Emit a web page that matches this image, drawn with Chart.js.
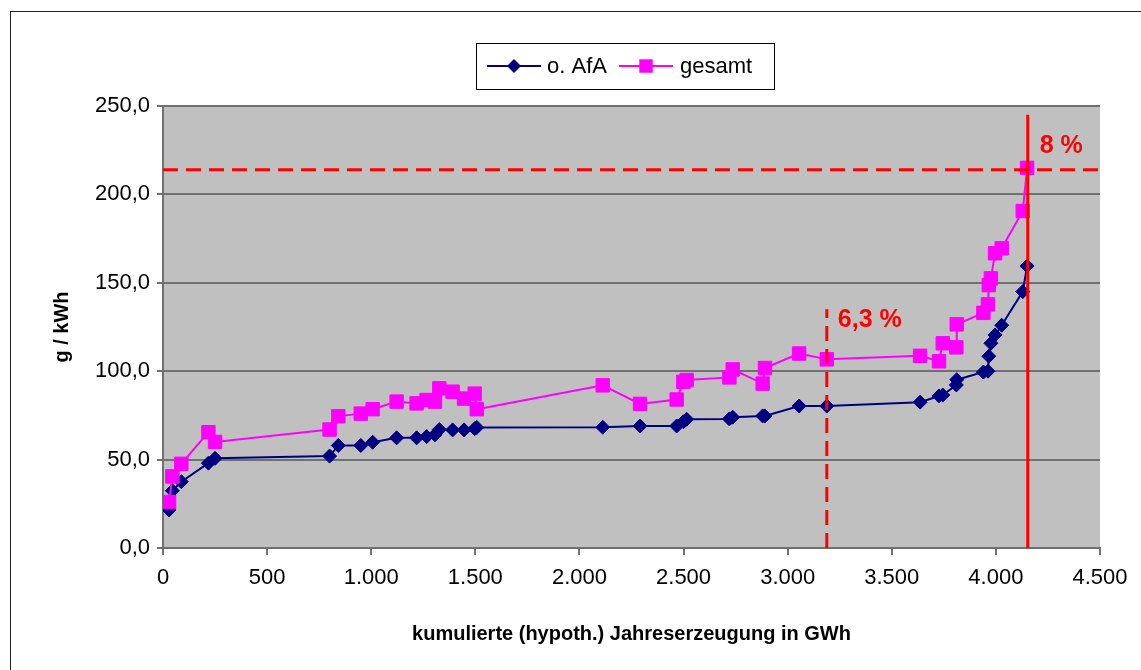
<!DOCTYPE html>
<html>
<head>
<meta charset="utf-8">
<script src="https://cdn.jsdelivr.net/npm/chart.js@4/dist/chart.umd.min.js"></script>
<style>
html, body { margin: 0; padding: 0; background: #fff; }
#wrap { width: 1141px; height: 670px; }
</style>
</head>
<body>
<div id="wrap"><canvas id="kurve"></canvas></div>
<script>
// kumulierte Erzeugung (GWh) und spezifische Werte (g/kWh)
var erzeugung = [29, 45, 88, 218, 250, 800, 842, 950, 1007, 1122, 1218, 1266, 1306, 1327, 1391, 1446, 1497, 1507,
                 2112, 2291, 2467, 2499, 2515, 2720, 2736, 2880, 2891, 3055, 3188, 3636, 3727, 3745, 3810, 3812,
                 3940, 3962, 3966, 3976, 3996, 4028, 4129, 4150];
var ohneAfA = [21.5, 32.4, 37.5, 48, 50.7, 52, 58, 58, 59.8, 62.3, 62.3, 63, 64, 67, 66.8, 66.8, 67.5, 68.2,
               68.3, 69, 69, 71.4, 72.8, 73, 74, 74.7, 74.7, 80.3, 80.3, 82.5, 86, 86.5, 92.2, 95.2,
               99.5, 100, 108.5, 115.8, 120.5, 126, 145, 159.5];
var gesamt = [26, 40.5, 47.6, 65.5, 60, 67, 74.5, 76, 78.5, 82.8, 81.8, 83.7, 82.8, 90.3, 88.4, 84.5, 87.3, 78.5,
              92, 81.5, 84, 94, 95, 96.5, 101, 93, 101.8, 110, 106.7, 108.7, 105.6, 115.8, 113.5, 126.5,
              133, 137.8, 148.7, 152.5, 166.7, 169.5, 190.6, 215];
var serienNamen = ['o. AfA', 'gesamt'];

// Markierungen (rot)
var grenze63 = 3188, grenze8 = 4153, grenzWert = 214;
var strichEnde63 = 135, linienEnde8 = 245;

function punkte(ys) {
    return erzeugung.map(function (x, i) { return { x: x, y: ys[i] }; });
}

var schrift = '"Liberation Sans", Arial, sans-serif';

var hintergrund = {
    id: 'hintergrund',
    beforeDraw: function (chart) {
        var ctx = chart.ctx, a = chart.chartArea;
        ctx.save();
        ctx.fillStyle = '#fff';
        ctx.fillRect(0, 0, chart.width, chart.height);
        ctx.strokeStyle = '#222';
        ctx.lineWidth = 1;
        ctx.strokeRect(10.5, 11.5, chart.width + 20, chart.height + 20);
        ctx.fillStyle = '#c0c0c0';
        ctx.fillRect(a.left, a.top, a.right - a.left, a.bottom - a.top);
        ctx.restore();
    }
};

var markierungen = {
    id: 'markierungen',
    afterDatasetsDraw: function (chart) {
        var ctx = chart.ctx, x = chart.scales.x, y = chart.scales.y;
        ctx.save();
        ctx.strokeStyle = '#ff0000';
        ctx.lineWidth = 3;
        ctx.setLineDash([15, 8]);
        ctx.beginPath();
        ctx.moveTo(x.getPixelForValue(0), y.getPixelForValue(grenzWert));
        ctx.lineTo(x.getPixelForValue(4500), y.getPixelForValue(grenzWert));
        ctx.stroke();
        ctx.beginPath();
        ctx.moveTo(x.getPixelForValue(grenze63), y.getPixelForValue(0));
        ctx.lineTo(x.getPixelForValue(grenze63), y.getPixelForValue(strichEnde63));
        ctx.stroke();
        ctx.setLineDash([]);
        ctx.beginPath();
        ctx.moveTo(x.getPixelForValue(grenze8), y.getPixelForValue(0));
        ctx.lineTo(x.getPixelForValue(grenze8), y.getPixelForValue(linienEnde8));
        ctx.stroke();
        ctx.fillStyle = '#ff0000';
        ctx.font = 'bold 25px ' + schrift;
        ctx.textBaseline = 'middle';
        ctx.fillText('6,3 %', x.getPixelForValue(grenze63) + 11, y.getPixelForValue(129));
        ctx.fillText('8 %', x.getPixelForValue(grenze8) + 12, y.getPixelForValue(227.5));
        ctx.restore();
    }
};

// Legende im Excel-Stil: Linie mit Marker, Rahmen drum
var legende = {
    id: 'legende',
    afterDraw: function (chart) {
        var ctx = chart.ctx, yy = 66;
        var pos = [{ x: 487, t: 547 }, { x: 619, t: 680 }];
        ctx.save();
        ctx.strokeStyle = '#000';
        ctx.lineWidth = 1;
        ctx.strokeRect(476.5, 43.5, 298, 46);
        chart.data.datasets.forEach(function (ds, i) {
            var p = pos[i], mx = p.x + 27;
            ctx.strokeStyle = ds.borderColor;
            ctx.lineWidth = 2;
            ctx.beginPath();
            ctx.moveTo(p.x, yy);
            ctx.lineTo(p.x + 54, yy);
            ctx.stroke();
            ctx.fillStyle = ds.backgroundColor;
            ctx.beginPath();
            if (ds.pointStyle === 'rectRot') {
                var r = ds.pointRadius;
                ctx.moveTo(mx - r, yy); ctx.lineTo(mx, yy - r);
                ctx.lineTo(mx + r, yy); ctx.lineTo(mx, yy + r);
                ctx.closePath();
            } else {
                var s = ds.pointRadius * Math.SQRT1_2;
                ctx.rect(mx - s, yy - s, 2 * s, 2 * s);
            }
            ctx.fill();
            ctx.fillStyle = '#000';
            ctx.font = '22px ' + schrift;
            ctx.textBaseline = 'middle';
            ctx.fillText(ds.label, p.t, yy + 1);
        });
        ctx.restore();
    }
};

var ctx = document.getElementById('kurve');
var chart = new Chart(ctx, {
    type: 'line',
    data: {
        datasets: [{
            label: serienNamen[0],
            data: punkte(ohneAfA),
            borderColor: '#000080',
            backgroundColor: '#000080',
            borderWidth: 2,
            pointStyle: 'rectRot',
            pointRadius: 7,
            pointBorderWidth: 1,
            order: 2
        }, {
            label: serienNamen[1],
            data: punkte(gesamt),
            borderColor: '#ff00ff',
            backgroundColor: '#ff00ff',
            borderWidth: 2,
            pointStyle: 'rect',
            pointRadius: 9.5,
            pointBorderWidth: 1,
            order: 1
        }]
    },
    options: {
        responsive: true,
        maintainAspectRatio: false,
        animation: false,
        devicePixelRatio: 1,
        events: [],
        layout: { padding: { top: 106, right: 41, bottom: 0, left: 0 } },
        plugins: {
            legend: { display: false },
            tooltip: { enabled: false }
        },
        scales: {
            x: {
                type: 'linear',
                min: 0,
                max: 4500,
                ticks: {
                    stepSize: 500,
                    color: '#000',
                    font: { family: schrift, size: 22 },
                    padding: 10,
                    maxRotation: 0,
                    callback: function (v) { return String(v).replace(/\B(?=(\d{3})+(?!\d))/g, '.'); }
                },
                grid: { drawOnChartArea: false, color: '#707070', lineWidth: 2, tickLength: 7 },
                border: { color: '#707070', width: 2 },
                title: {
                    display: true,
                    text: 'kumulierte (hypoth.) Jahreserzeugung in GWh',
                    color: '#000',
                    font: { family: schrift, size: 20, weight: 'bold' },
                    padding: { top: 0, bottom: 24 }
                },
                afterFit: function (s) { s.height = 122; }
            },
            y: {
                min: 0,
                max: 250,
                ticks: {
                    stepSize: 50,
                    color: '#000',
                    font: { family: schrift, size: 22 },
                    padding: 7,
                    callback: function (v) { return v.toFixed(1).replace('.', ','); }
                },
                grid: { color: '#707070', lineWidth: 2, tickLength: 6 },
                border: { color: '#707070', width: 2 },
                title: {
                    display: true,
                    text: 'g / kWh',
                    color: '#000',
                    font: { family: schrift, size: 20, weight: 'bold' },
                    padding: { top: 50, bottom: 0 }
                },
                afterFit: function (s) { s.width = 163; }
            }
        }
    },
    plugins: [hintergrund, markierungen, legende]
});
</script>
</body>
</html>
